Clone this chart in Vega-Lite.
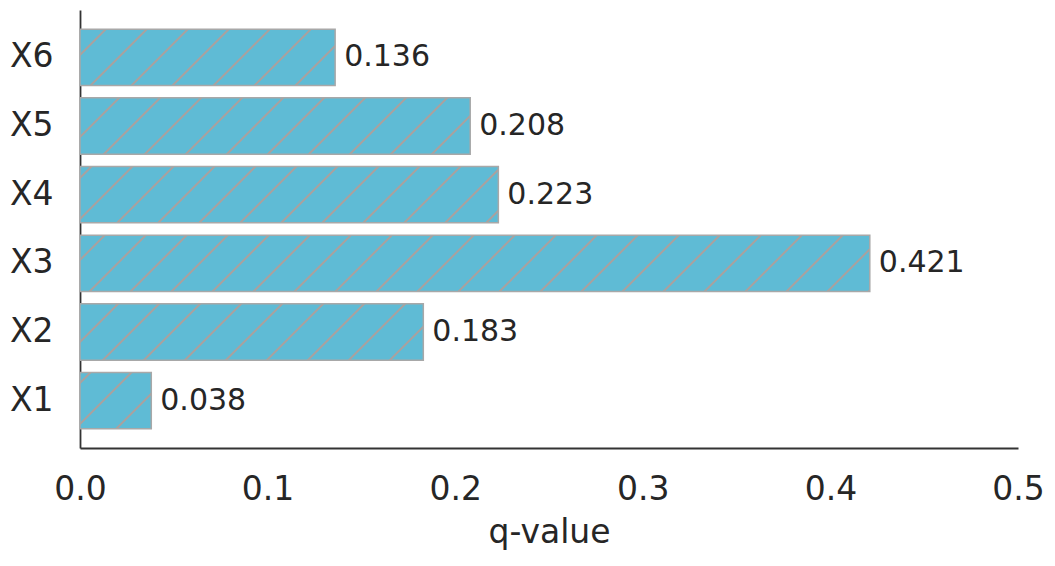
{
  "$schema": "https://vega.github.io/schema/vega-lite/v6.json",
  "width": 938,
  "height": 438,
  "autosize": "none",
  "padding": {"left": 80, "top": 10, "right": 37, "bottom": 118},
  "background": "white",
  "data": {
    "values": [
      {"name": "X1", "q": 0.038},
      {"name": "X2", "q": 0.183},
      {"name": "X3", "q": 0.421},
      {"name": "X4", "q": 0.223},
      {"name": "X5", "q": 0.208},
      {"name": "X6", "q": 0.136}
    ]
  },
  "encoding": {
    "y": {
      "field": "name",
      "type": "nominal",
      "scale": {"domain": ["X6", "X5", "X4", "X3", "X2", "X1"], "paddingInner": 0.18, "paddingOuter": 0.28},
      "axis": {"title": null, "ticks": false, "labelPadding": 27, "labelFontSize": 33}
    },
    "x": {
      "field": "q",
      "type": "quantitative",
      "scale": {"domain": [0, 0.5], "nice": false},
      "axis": {
        "title": "q-value",
        "values": [0, 0.1, 0.2, 0.3, 0.4, 0.5],
        "format": ".1f",
        "ticks": false,
        "labelFontSize": 33,
        "labelBaseline": "alphabetic",
        "labelPadding": 51,
        "labelFlush": false,
        "titleFontSize": 33,
        "titleFontWeight": "normal",
        "titleBaseline": "alphabetic",
        "titleY": 94
      }
    }
  },
  "layer": [
    {
      "mark": {"type": "bar", "stroke": "#a8a8a8", "strokeWidth": 1.5},
      "encoding": {
        "fill": {
          "condition": [
            {"test": "datum.name === 'X1'", "value":
              {"gradient": "linear", "x1": 0, "y1": 0, "x2": 1.1023, "y2": 0.8705, "stops": [
                {"offset": 0, "color": "#5fbbd5"},
                {"offset": 0.0745, "color": "#5fbbd5"}, {"offset": 0.0745, "color": "#a3a3a3"}, {"offset": 0.0980, "color": "#a3a3a3"}, {"offset": 0.0980, "color": "#5fbbd5"},
                {"offset": 0.3958, "color": "#5fbbd5"}, {"offset": 0.3958, "color": "#a3a3a3"}, {"offset": 0.4193, "color": "#a3a3a3"}, {"offset": 0.4193, "color": "#5fbbd5"},
                {"offset": 0.7171, "color": "#5fbbd5"}, {"offset": 0.7171, "color": "#a3a3a3"}, {"offset": 0.7407, "color": "#a3a3a3"}, {"offset": 0.7407, "color": "#5fbbd5"},
                {"offset": 1, "color": "#5fbbd5"}
              ]}},
            {"test": "datum.name === 'X2'", "value":
              {"gradient": "linear", "x1": 0, "y1": 0, "x2": 1.1335, "y2": 0.1859, "stops": [
                {"offset": 0, "color": "#5fbbd5"},
                {"offset": 0.0928, "color": "#5fbbd5"}, {"offset": 0.0928, "color": "#a3a3a3"}, {"offset": 0.1004, "color": "#a3a3a3"}, {"offset": 0.1004, "color": "#5fbbd5"},
                {"offset": 0.1954, "color": "#5fbbd5"}, {"offset": 0.1954, "color": "#a3a3a3"}, {"offset": 0.2030, "color": "#a3a3a3"}, {"offset": 0.2030, "color": "#5fbbd5"},
                {"offset": 0.2980, "color": "#5fbbd5"}, {"offset": 0.2980, "color": "#a3a3a3"}, {"offset": 0.3056, "color": "#a3a3a3"}, {"offset": 0.3056, "color": "#5fbbd5"},
                {"offset": 0.4006, "color": "#5fbbd5"}, {"offset": 0.4006, "color": "#a3a3a3"}, {"offset": 0.4082, "color": "#a3a3a3"}, {"offset": 0.4082, "color": "#5fbbd5"},
                {"offset": 0.5032, "color": "#5fbbd5"}, {"offset": 0.5032, "color": "#a3a3a3"}, {"offset": 0.5108, "color": "#a3a3a3"}, {"offset": 0.5108, "color": "#5fbbd5"},
                {"offset": 0.6058, "color": "#5fbbd5"}, {"offset": 0.6058, "color": "#a3a3a3"}, {"offset": 0.6134, "color": "#a3a3a3"}, {"offset": 0.6134, "color": "#5fbbd5"},
                {"offset": 0.7084, "color": "#5fbbd5"}, {"offset": 0.7084, "color": "#a3a3a3"}, {"offset": 0.7160, "color": "#a3a3a3"}, {"offset": 0.7160, "color": "#5fbbd5"},
                {"offset": 0.8110, "color": "#5fbbd5"}, {"offset": 0.8110, "color": "#a3a3a3"}, {"offset": 0.8186, "color": "#a3a3a3"}, {"offset": 0.8186, "color": "#5fbbd5"},
                {"offset": 0.9136, "color": "#5fbbd5"}, {"offset": 0.9136, "color": "#a3a3a3"}, {"offset": 0.9212, "color": "#a3a3a3"}, {"offset": 0.9212, "color": "#5fbbd5"},
                {"offset": 1, "color": "#5fbbd5"}
              ]}},
            {"test": "datum.name === 'X3'", "value":
              {"gradient": "linear", "x1": 0, "y1": 0, "x2": 1.0659, "y2": 0.0760, "stops": [
                {"offset": 0, "color": "#5fbbd5"},
                {"offset": 0.0280, "color": "#5fbbd5"}, {"offset": 0.0280, "color": "#a3a3a3"}, {"offset": 0.0316, "color": "#a3a3a3"}, {"offset": 0.0316, "color": "#5fbbd5"},
                {"offset": 0.0765, "color": "#5fbbd5"}, {"offset": 0.0765, "color": "#a3a3a3"}, {"offset": 0.0800, "color": "#a3a3a3"}, {"offset": 0.0800, "color": "#5fbbd5"},
                {"offset": 0.1249, "color": "#5fbbd5"}, {"offset": 0.1249, "color": "#a3a3a3"}, {"offset": 0.1285, "color": "#a3a3a3"}, {"offset": 0.1285, "color": "#5fbbd5"},
                {"offset": 0.1734, "color": "#5fbbd5"}, {"offset": 0.1734, "color": "#a3a3a3"}, {"offset": 0.1769, "color": "#a3a3a3"}, {"offset": 0.1769, "color": "#5fbbd5"},
                {"offset": 0.2218, "color": "#5fbbd5"}, {"offset": 0.2218, "color": "#a3a3a3"}, {"offset": 0.2254, "color": "#a3a3a3"}, {"offset": 0.2254, "color": "#5fbbd5"},
                {"offset": 0.2703, "color": "#5fbbd5"}, {"offset": 0.2703, "color": "#a3a3a3"}, {"offset": 0.2739, "color": "#a3a3a3"}, {"offset": 0.2739, "color": "#5fbbd5"},
                {"offset": 0.3188, "color": "#5fbbd5"}, {"offset": 0.3188, "color": "#a3a3a3"}, {"offset": 0.3223, "color": "#a3a3a3"}, {"offset": 0.3223, "color": "#5fbbd5"},
                {"offset": 0.3672, "color": "#5fbbd5"}, {"offset": 0.3672, "color": "#a3a3a3"}, {"offset": 0.3708, "color": "#a3a3a3"}, {"offset": 0.3708, "color": "#5fbbd5"},
                {"offset": 0.4157, "color": "#5fbbd5"}, {"offset": 0.4157, "color": "#a3a3a3"}, {"offset": 0.4192, "color": "#a3a3a3"}, {"offset": 0.4192, "color": "#5fbbd5"},
                {"offset": 0.4641, "color": "#5fbbd5"}, {"offset": 0.4641, "color": "#a3a3a3"}, {"offset": 0.4677, "color": "#a3a3a3"}, {"offset": 0.4677, "color": "#5fbbd5"},
                {"offset": 0.5126, "color": "#5fbbd5"}, {"offset": 0.5126, "color": "#a3a3a3"}, {"offset": 0.5161, "color": "#a3a3a3"}, {"offset": 0.5161, "color": "#5fbbd5"},
                {"offset": 0.5611, "color": "#5fbbd5"}, {"offset": 0.5611, "color": "#a3a3a3"}, {"offset": 0.5646, "color": "#a3a3a3"}, {"offset": 0.5646, "color": "#5fbbd5"},
                {"offset": 0.6095, "color": "#5fbbd5"}, {"offset": 0.6095, "color": "#a3a3a3"}, {"offset": 0.6131, "color": "#a3a3a3"}, {"offset": 0.6131, "color": "#5fbbd5"},
                {"offset": 0.6580, "color": "#5fbbd5"}, {"offset": 0.6580, "color": "#a3a3a3"}, {"offset": 0.6615, "color": "#a3a3a3"}, {"offset": 0.6615, "color": "#5fbbd5"},
                {"offset": 0.7064, "color": "#5fbbd5"}, {"offset": 0.7064, "color": "#a3a3a3"}, {"offset": 0.7100, "color": "#a3a3a3"}, {"offset": 0.7100, "color": "#5fbbd5"},
                {"offset": 0.7549, "color": "#5fbbd5"}, {"offset": 0.7549, "color": "#a3a3a3"}, {"offset": 0.7584, "color": "#a3a3a3"}, {"offset": 0.7584, "color": "#5fbbd5"},
                {"offset": 0.8033, "color": "#5fbbd5"}, {"offset": 0.8033, "color": "#a3a3a3"}, {"offset": 0.8069, "color": "#a3a3a3"}, {"offset": 0.8069, "color": "#5fbbd5"},
                {"offset": 0.8518, "color": "#5fbbd5"}, {"offset": 0.8518, "color": "#a3a3a3"}, {"offset": 0.8553, "color": "#a3a3a3"}, {"offset": 0.8553, "color": "#5fbbd5"},
                {"offset": 0.9003, "color": "#5fbbd5"}, {"offset": 0.9003, "color": "#a3a3a3"}, {"offset": 0.9038, "color": "#a3a3a3"}, {"offset": 0.9038, "color": "#5fbbd5"},
                {"offset": 0.9487, "color": "#5fbbd5"}, {"offset": 0.9487, "color": "#a3a3a3"}, {"offset": 0.9523, "color": "#a3a3a3"}, {"offset": 0.9523, "color": "#5fbbd5"},
                {"offset": 0.9972, "color": "#5fbbd5"}, {"offset": 0.9972, "color": "#a3a3a3"}, {"offset": 1, "color": "#a3a3a3"}
              ]}},
            {"test": "datum.name === 'X4'", "value":
              {"gradient": "linear", "x1": 0, "y1": 0, "x2": 1.1144, "y2": 0.1500, "stops": [
                {"offset": 0, "color": "#5fbbd5"},
                {"offset": 0.0217, "color": "#5fbbd5"}, {"offset": 0.0217, "color": "#a3a3a3"}, {"offset": 0.0280, "color": "#a3a3a3"}, {"offset": 0.0280, "color": "#5fbbd5"},
                {"offset": 0.1081, "color": "#5fbbd5"}, {"offset": 0.1081, "color": "#a3a3a3"}, {"offset": 0.1144, "color": "#a3a3a3"}, {"offset": 0.1144, "color": "#5fbbd5"},
                {"offset": 0.1945, "color": "#5fbbd5"}, {"offset": 0.1945, "color": "#a3a3a3"}, {"offset": 0.2008, "color": "#a3a3a3"}, {"offset": 0.2008, "color": "#5fbbd5"},
                {"offset": 0.2808, "color": "#5fbbd5"}, {"offset": 0.2808, "color": "#a3a3a3"}, {"offset": 0.2872, "color": "#a3a3a3"}, {"offset": 0.2872, "color": "#5fbbd5"},
                {"offset": 0.3672, "color": "#5fbbd5"}, {"offset": 0.3672, "color": "#a3a3a3"}, {"offset": 0.3735, "color": "#a3a3a3"}, {"offset": 0.3735, "color": "#5fbbd5"},
                {"offset": 0.4536, "color": "#5fbbd5"}, {"offset": 0.4536, "color": "#a3a3a3"}, {"offset": 0.4599, "color": "#a3a3a3"}, {"offset": 0.4599, "color": "#5fbbd5"},
                {"offset": 0.5400, "color": "#5fbbd5"}, {"offset": 0.5400, "color": "#a3a3a3"}, {"offset": 0.5463, "color": "#a3a3a3"}, {"offset": 0.5463, "color": "#5fbbd5"},
                {"offset": 0.6264, "color": "#5fbbd5"}, {"offset": 0.6264, "color": "#a3a3a3"}, {"offset": 0.6327, "color": "#a3a3a3"}, {"offset": 0.6327, "color": "#5fbbd5"},
                {"offset": 0.7127, "color": "#5fbbd5"}, {"offset": 0.7127, "color": "#a3a3a3"}, {"offset": 0.7191, "color": "#a3a3a3"}, {"offset": 0.7191, "color": "#5fbbd5"},
                {"offset": 0.7991, "color": "#5fbbd5"}, {"offset": 0.7991, "color": "#a3a3a3"}, {"offset": 0.8054, "color": "#a3a3a3"}, {"offset": 0.8054, "color": "#5fbbd5"},
                {"offset": 0.8855, "color": "#5fbbd5"}, {"offset": 0.8855, "color": "#a3a3a3"}, {"offset": 0.8918, "color": "#a3a3a3"}, {"offset": 0.8918, "color": "#5fbbd5"},
                {"offset": 0.9719, "color": "#5fbbd5"}, {"offset": 0.9719, "color": "#a3a3a3"}, {"offset": 0.9782, "color": "#a3a3a3"}, {"offset": 0.9782, "color": "#5fbbd5"},
                {"offset": 1, "color": "#5fbbd5"}
              ]}},
            {"test": "datum.name === 'X5'", "value":
              {"gradient": "linear", "x1": 0, "y1": 0, "x2": 1.1209, "y2": 0.1617, "stops": [
                {"offset": 0, "color": "#5fbbd5"},
                {"offset": 0.0849, "color": "#5fbbd5"}, {"offset": 0.0849, "color": "#a3a3a3"}, {"offset": 0.0916, "color": "#a3a3a3"}, {"offset": 0.0916, "color": "#5fbbd5"},
                {"offset": 0.1767, "color": "#5fbbd5"}, {"offset": 0.1767, "color": "#a3a3a3"}, {"offset": 0.1834, "color": "#a3a3a3"}, {"offset": 0.1834, "color": "#5fbbd5"},
                {"offset": 0.2685, "color": "#5fbbd5"}, {"offset": 0.2685, "color": "#a3a3a3"}, {"offset": 0.2752, "color": "#a3a3a3"}, {"offset": 0.2752, "color": "#5fbbd5"},
                {"offset": 0.3603, "color": "#5fbbd5"}, {"offset": 0.3603, "color": "#a3a3a3"}, {"offset": 0.3671, "color": "#a3a3a3"}, {"offset": 0.3671, "color": "#5fbbd5"},
                {"offset": 0.4522, "color": "#5fbbd5"}, {"offset": 0.4522, "color": "#a3a3a3"}, {"offset": 0.4589, "color": "#a3a3a3"}, {"offset": 0.4589, "color": "#5fbbd5"},
                {"offset": 0.5440, "color": "#5fbbd5"}, {"offset": 0.5440, "color": "#a3a3a3"}, {"offset": 0.5507, "color": "#a3a3a3"}, {"offset": 0.5507, "color": "#5fbbd5"},
                {"offset": 0.6358, "color": "#5fbbd5"}, {"offset": 0.6358, "color": "#a3a3a3"}, {"offset": 0.6425, "color": "#a3a3a3"}, {"offset": 0.6425, "color": "#5fbbd5"},
                {"offset": 0.7276, "color": "#5fbbd5"}, {"offset": 0.7276, "color": "#a3a3a3"}, {"offset": 0.7343, "color": "#a3a3a3"}, {"offset": 0.7343, "color": "#5fbbd5"},
                {"offset": 0.8194, "color": "#5fbbd5"}, {"offset": 0.8194, "color": "#a3a3a3"}, {"offset": 0.8262, "color": "#a3a3a3"}, {"offset": 0.8262, "color": "#5fbbd5"},
                {"offset": 0.9113, "color": "#5fbbd5"}, {"offset": 0.9113, "color": "#a3a3a3"}, {"offset": 0.9180, "color": "#a3a3a3"}, {"offset": 0.9180, "color": "#5fbbd5"},
                {"offset": 1, "color": "#5fbbd5"}
              ]}},
            {"test": "datum.name === 'X6'", "value":
              {"gradient": "linear", "x1": 0, "y1": 0, "x2": 1.1640, "y2": 0.2569, "stops": [
                {"offset": 0, "color": "#5fbbd5"},
                {"offset": 0.0787, "color": "#5fbbd5"}, {"offset": 0.0787, "color": "#a3a3a3"}, {"offset": 0.0883, "color": "#a3a3a3"}, {"offset": 0.0883, "color": "#5fbbd5"},
                {"offset": 0.2103, "color": "#5fbbd5"}, {"offset": 0.2103, "color": "#a3a3a3"}, {"offset": 0.2200, "color": "#a3a3a3"}, {"offset": 0.2200, "color": "#5fbbd5"},
                {"offset": 0.3420, "color": "#5fbbd5"}, {"offset": 0.3420, "color": "#a3a3a3"}, {"offset": 0.3516, "color": "#a3a3a3"}, {"offset": 0.3516, "color": "#5fbbd5"},
                {"offset": 0.4736, "color": "#5fbbd5"}, {"offset": 0.4736, "color": "#a3a3a3"}, {"offset": 0.4833, "color": "#a3a3a3"}, {"offset": 0.4833, "color": "#5fbbd5"},
                {"offset": 0.6053, "color": "#5fbbd5"}, {"offset": 0.6053, "color": "#a3a3a3"}, {"offset": 0.6149, "color": "#a3a3a3"}, {"offset": 0.6149, "color": "#5fbbd5"},
                {"offset": 0.7369, "color": "#5fbbd5"}, {"offset": 0.7369, "color": "#a3a3a3"}, {"offset": 0.7466, "color": "#a3a3a3"}, {"offset": 0.7466, "color": "#5fbbd5"},
                {"offset": 0.8686, "color": "#5fbbd5"}, {"offset": 0.8686, "color": "#a3a3a3"}, {"offset": 0.8782, "color": "#a3a3a3"}, {"offset": 0.8782, "color": "#5fbbd5"},
                {"offset": 1, "color": "#5fbbd5"}
              ]}}
          ],
          "value": "#5fbbd5"
        }
      }
    },
    {
      "mark": {"type": "text", "align": "left", "baseline": "middle", "dx": 9, "fontSize": 30, "font": "DejaVu Sans", "color": "#262626"},
      "encoding": {
        "text": {"field": "q", "type": "quantitative", "format": ".3f"}
      }
    }
  ],
  "config": {
    "font": "DejaVu Sans",
    "view": {"stroke": null},
    "axis": {
      "grid": false,
      "domainColor": "#333333",
      "domainWidth": 1.8,
      "labelColor": "#262626",
      "titleColor": "#262626",
      "labelFont": "DejaVu Sans",
      "titleFont": "DejaVu Sans"
    }
  }
}
